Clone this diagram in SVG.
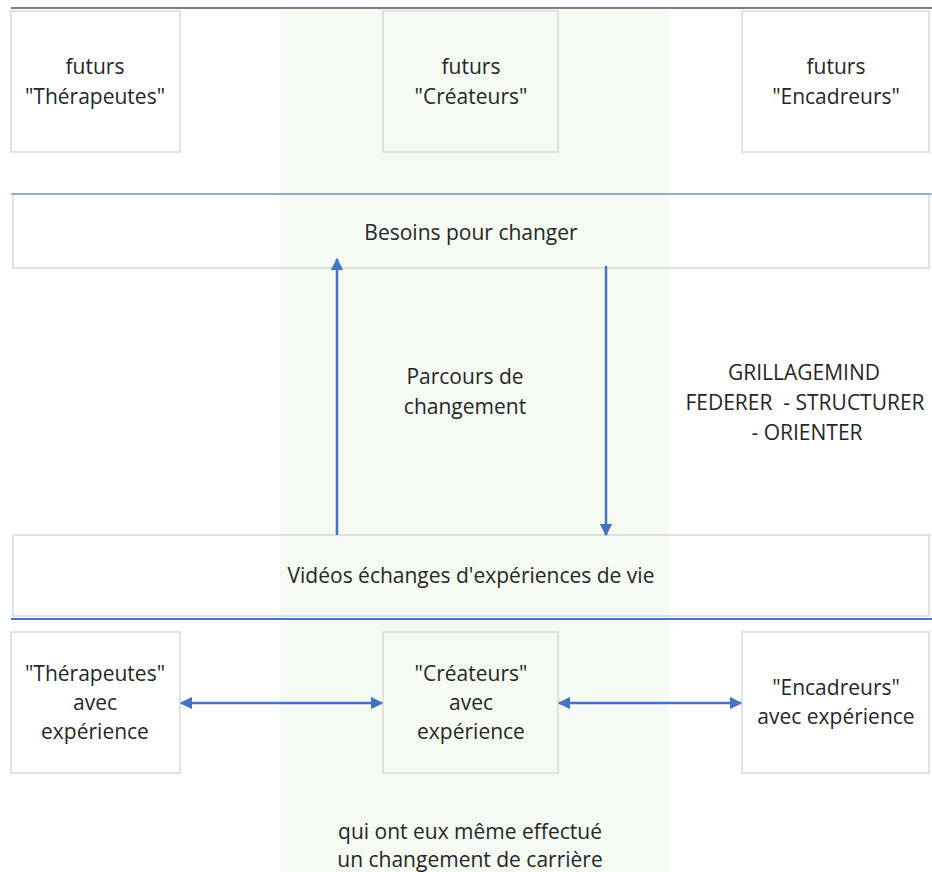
<svg xmlns="http://www.w3.org/2000/svg" width="932" height="872" viewBox="0 0 932 872">
<style>
.box{fill:#ffffff;stroke:#d9d9d9;stroke-width:1.5}
.t{font-family:"Open Sans","Noto Sans",sans-serif;font-size:21px;fill:#262626;text-anchor:middle}
.arr{stroke:#4472c4;stroke-width:2.5;fill:none}
</style>
<defs>
<marker id="ah" viewBox="0 0 10 10" refX="9" refY="5" markerWidth="5" markerHeight="5" orient="auto-start-reverse" markerUnits="strokeWidth">
<path d="M0,0 L10,5 L0,10 z" fill="#4472c4"/>
</marker>
</defs>
<rect x="0" y="0" width="932" height="872" fill="#ffffff"/>
<rect id="band" x="280" y="9" width="389" height="863" fill="#f5faf3"/>
<line x1="11" y1="8" x2="932" y2="8" stroke="#7f7f7f" stroke-width="2"/>
<g id="futurs-therapeutes"><rect class="box" x="11" y="11" width="169" height="141"/><text class="t" x="95" y="74">futurs</text><text class="t" x="95" y="104">"Thérapeutes"</text></g>
<g id="futurs-createurs"><rect class="box" x="383" y="11" width="175" height="141" style="fill:#f5faf3"/><text class="t" x="471" y="74">futurs</text><text class="t" x="471" y="104">"Créateurs"</text></g>
<g id="futurs-encadreurs"><rect class="box" x="742" y="11" width="187" height="141"/><text class="t" x="836" y="74">futurs</text><text class="t" x="836" y="104">"Encadreurs"</text></g>
<g id="besoins"><rect class="box" x="13" y="194" width="916" height="74" style="fill:none"/><line x1="11" y1="194" x2="932" y2="194" stroke="#4472c4" stroke-width="1.2"/><text class="t" x="471" y="240">Besoins pour changer</text></g>
<g id="parcours"><text class="t" x="465" y="384">Parcours de</text><text class="t" x="465" y="414">changement</text></g>
<g id="grillagemind"><text class="t" x="804" y="380">GRILLAGEMIND</text><text class="t" x="805" y="410" xml:space="preserve">FEDERER  - STRUCTURER</text><text class="t" x="807" y="440">- ORIENTER</text></g>
<g id="videos"><rect class="box" x="13" y="535" width="916" height="81" style="fill:none"/><text class="t" x="471" y="583">Vidéos échanges d'expériences de vie</text></g>
<line x1="11" y1="619" x2="932" y2="619" stroke="#4472c4" stroke-width="2.2"/>
<g id="therapeutes-exp"><rect class="box" x="11" y="632" width="169" height="141"/><text class="t" x="95" y="681">"Thérapeutes"</text><text class="t" x="95" y="710">avec</text><text class="t" x="95" y="739">expérience</text></g>
<g id="createurs-exp"><rect class="box" x="383" y="632" width="175" height="141" style="fill:#f5faf3"/><text class="t" x="471" y="681">"Créateurs"</text><text class="t" x="471" y="710">avec</text><text class="t" x="471" y="739">expérience</text></g>
<g id="encadreurs-exp"><rect class="box" x="742" y="632" width="187" height="141"/><text class="t" x="836" y="695">"Encadreurs"</text><text class="t" x="836" y="724">avec expérience</text></g>
<g id="note"><text class="t" x="470" y="839">qui ont eux même effectué</text><text class="t" x="470" y="867">un changement de carrière</text></g>
<g id="connectors">
<line class="arr" x1="337" y1="535" x2="337" y2="259" marker-end="url(#ah)"/>
<line class="arr" x1="606" y1="266" x2="606" y2="535" marker-end="url(#ah)"/>
<line class="arr" x1="181" y1="703" x2="382" y2="703" marker-start="url(#ah)" marker-end="url(#ah)"/>
<line class="arr" x1="559" y1="703" x2="741" y2="703" marker-start="url(#ah)" marker-end="url(#ah)"/>
</g>
</svg>
